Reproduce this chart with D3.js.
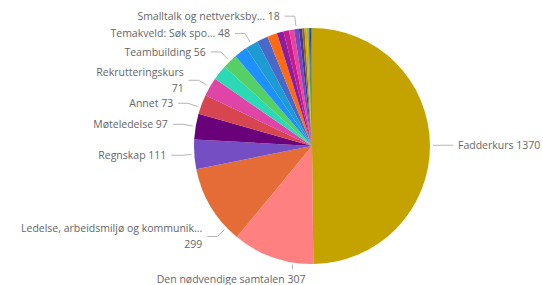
<!DOCTYPE html>
<html><head><meta charset="utf-8">
<script src="https://cdn.jsdelivr.net/npm/d3@7"></script>
<style>
body{margin:0;background:#fff}
svg{display:block}
text{font-family:"Open Sans",sans-serif;font-size:10.5px;fill:#666}
</style>
</head><body><svg id="c" width="543" height="285"></svg>
<script>
// Categories in slice order (clockwise from 12 o'clock). null = slice without a visible label.
const categories = ["Fadderkurs","Den nødvendige samtalen","Ledelse, arbeidsmiljø og kommunik...","Regnskap","Møteledelse","Annet","Rekrutteringskurs",
  null,"Teambuilding",null,"Temakveld: Søk spo...",null,null,null,null,null,"Smalltalk og nettverksby...",null,null,null,null,null,null,null,null];
const values = [1370,307,299,111,97,73,71,57,56,50,48,42,37,25,21,19,18,12,9,8,7,5,4,3,1];
const colors = ["#C4A200","#FF8080","#E66C37","#744EC2","#6B007B","#D64550","#E044A7","#2BD9B4","#55D066","#1E90FF","#1D9BD3","#4A68CA","#FF6A13","#8E1C9E","#C41B8E","#E8449E","#7548C2","#3E3A8E","#8C6A1C","#D4A50F","#B8B40C","#1F8A5A","#1E3FA8","#2E6FE3","#E33B4E"];
// labels whose value is written on a second line
const valueOnNewLine = ["Rekrutteringskurs","Ledelse, arbeidsmiljø og kommunik..."];

const W=543,H=285,cx=312,cy=146,R=118,RL=131;
const svg=d3.select("#c");
const data=values.map((v,i)=>({name:categories[i],value:v,color:colors[i]}));
const pie=d3.pie().sort(null).value(d=>d.value).startAngle(0).endAngle(2*Math.PI);
const arcs=pie(data);
const arc=d3.arc().innerRadius(0).outerRadius(R);
const g=svg.append("g").attr("transform",`translate(${cx},${cy})`);
g.selectAll("path").data(arcs).join("path").attr("d",arc).attr("fill",d=>d.data.color);

// measuring helper
const meas=svg.append("text").attr("x",-1000).attr("y",-1000);
function tw(s){meas.text(s);return meas.node().getComputedTextLength();}

const labels=arcs.filter(a=>a.data.name).map(a=>{
  const mid=(a.startAngle+a.endAngle)/2;
  const wrap=valueOnNewLine.includes(a.data.name);
  const lines=wrap?[a.data.name,String(a.data.value)]:[a.data.name+" "+a.data.value];
  const half=wrap?15.5:7.5;
  const width=d3.max(lines,tw);
  return {a,mid,lines,half,width,side:mid<Math.PI?1:-1,y:cy-RL*Math.cos(mid)};
});
meas.remove();

// bottom labels that cannot fit beside the pie go below it
labels.forEach(l=>{ l.below = (l.y+l.half > H-8); });

// resolve collisions on the left side
const left=labels.filter(l=>l.side<0&&!l.below).sort((p,q)=>p.y-q.y);
for(let i=1;i<left.length;i++){
  const p=left[i-1],c=left[i];
  const minY=p.y+p.half+c.half;
  if(c.y<minY)c.y=minY;
}
// keep wide labels inside the left margin by moving them along the circle
left.forEach(l=>{
  let dy=l.y-cy; dy=Math.max(-RL+1,Math.min(RL-1,dy));
  let bx=cx-Math.sqrt(RL*RL-dy*dy);
  const need=21+l.width+15;
  if(bx<need){
    const dx=cx-need;
    const ndy=Math.sqrt(Math.max(0,RL*RL-dx*dx));
    l.y=cy+Math.sign(dy||1)*ndy;
  }
});

const lg=svg.append("g");
labels.forEach(l=>{
  if(l.below){
    const th=l.a.startAngle+0.25*(l.a.endAngle-l.a.startAngle);
    const ax=cx+(R+2)*Math.sin(th), ay=cy-(R+2)*Math.cos(th);
    lg.append("path").attr("d",`M${ax},${ay}L${ax},${ay+5}`).attr("fill","none").attr("stroke","#b5b5b5").attr("stroke-width",1);
    lg.append("text").attr("x",ax+13).attr("y",H-6).attr("dy","0.35em").attr("text-anchor","end").text(l.lines[0]);
    return;
  }
  let dy=l.y-cy; dy=Math.max(-RL,Math.min(RL,dy));
  const bx=cx+l.side*Math.sqrt(Math.max(0,RL*RL-dy*dy)), by=l.y;
  const ax=cx+(bx-cx)*(R+3)/RL, ay=cy+(by-cy)*(R+3)/RL;
  const ex=bx+l.side*10;
  lg.append("path").attr("d",`M${ax},${ay}L${bx},${by}L${ex},${by}`).attr("fill","none").attr("stroke","#b5b5b5").attr("stroke-width",1);
  const t=lg.append("text").attr("x",ex+l.side*5).attr("text-anchor",l.side<0?"end":"start");
  if(l.lines.length===1){
    t.attr("y",by).attr("dy","0.35em").text(l.lines[0]);
  } else {
    l.lines.forEach((s,i)=>t.append("tspan").attr("x",ex+l.side*5).attr("y",by-8+16*i).attr("dy","0.35em").text(s));
  }
});
</script>
</body></html>
